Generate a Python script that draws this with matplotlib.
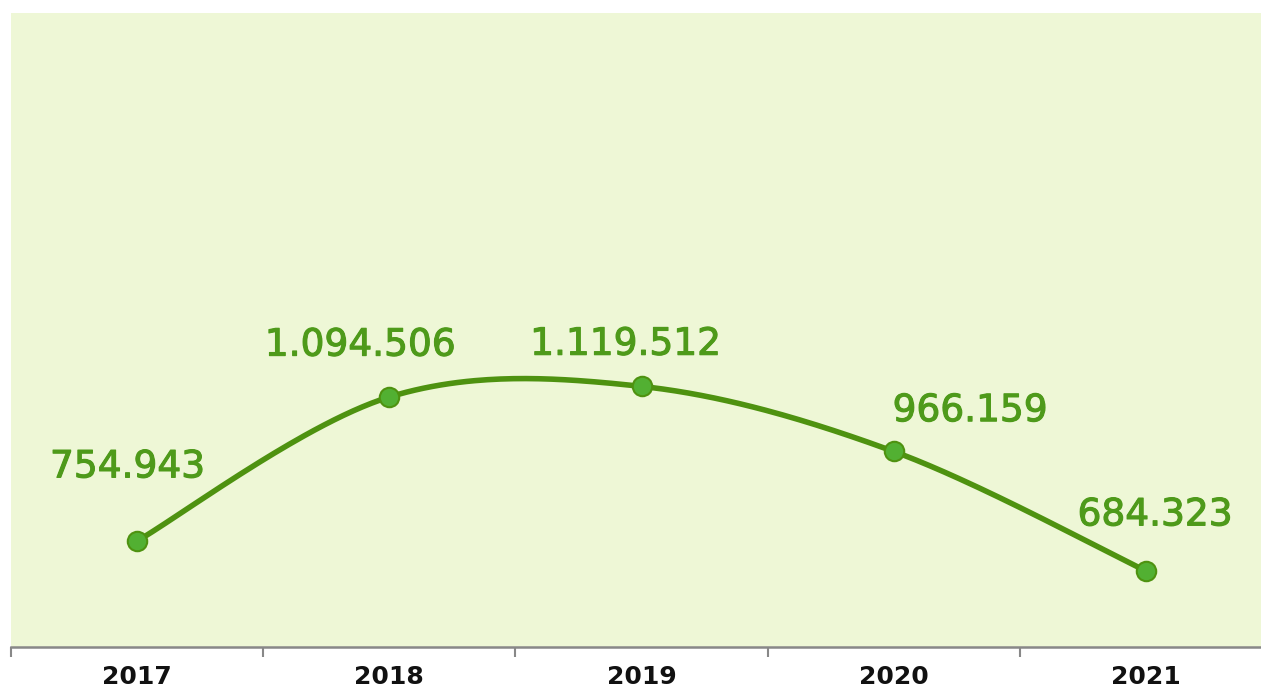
import numpy as np
import matplotlib
matplotlib.use("Agg")
import matplotlib.pyplot as plt
import matplotlib.patheffects as pe

years = ["2017", "2018", "2019", "2020", "2021"]
values = [754943, 1094506, 1119512, 966159, 684323]
labels = ["754.943", "1.094.506", "1.119.512", "966.159", "684.323"]

W, H = 1261, 688
fig = plt.figure(figsize=(W / 100, H / 100), dpi=100)
fig.patch.set_facecolor("white")
left, right, top, bottom = 11, 1272, 13, 647
ax = fig.add_axes([left / W, 1 - bottom / H, (right - left) / W, (bottom - top) / H])
ax.set_facecolor("#EEF7D6")

x = np.arange(len(values))
y = np.array(values, dtype=float)

# Excel-like smooth line (Catmull-Rom style Bezier segments)
def smooth(xs, ys, n=60):
    px, py = [], []
    N = len(xs)
    for i in range(N - 1):
        x0, y0 = xs[max(i - 1, 0)], ys[max(i - 1, 0)]
        x1, y1 = xs[i], ys[i]
        x2, y2 = xs[i + 1], ys[i + 1]
        x3, y3 = xs[min(i + 2, N - 1)], ys[min(i + 2, N - 1)]
        c1x, c1y = x1 + (x2 - x0) / 6, y1 + (y2 - y0) / 6
        c2x, c2y = x2 - (x3 - x1) / 6, y2 - (y3 - y1) / 6
        t = np.linspace(0, 1, n)
        bx = (1 - t) ** 3 * x1 + 3 * (1 - t) ** 2 * t * c1x + 3 * (1 - t) * t ** 2 * c2x + t ** 3 * x2
        by = (1 - t) ** 3 * y1 + 3 * (1 - t) ** 2 * t * c1y + 3 * (1 - t) * t ** 2 * c2y + t ** 3 * y2
        px.extend(bx); py.extend(by)
    return np.array(px), np.array(py)

sx, sy = smooth(x, y)
ax.plot(sx, sy, color="#4E9210", lw=4.0, solid_capstyle="round", zorder=2)
ax.plot(x, y, "o", ms=14, mfc="#52B032", mec="#4E9210", mew=1.5, zorder=3)

offsets = [(-7, 53), (-21, 37), (-11.5, 30), (55, 29), (6.5, 40)]
for xi, yi, lab, off in zip(x, y, labels, offsets):
    ax.annotate(lab, (xi, yi), xytext=off, textcoords="offset points",
                ha="center", va="center", fontsize=27, color="#4E9A1A",
                family="DejaVu Sans",
                path_effects=[pe.withStroke(linewidth=0.8, foreground="#4E9A1A")])

ax.set_xlim(-0.5, len(values) - 0.5)
ax.set_ylim(505000, 2000000)
ax.set_yticks([])
ax.set_xticks(x)
ax.set_xticklabels(years, fontsize=18, fontweight="bold", family="DejaVu Sans", color="#111111")
ax.set_xticks(np.arange(-0.5, len(values), 1), minor=True)
ax.tick_params(axis="x", which="major", length=0, pad=13)
ax.tick_params(axis="x", which="minor", length=7, width=1.5, color="#888888")
for s in ["top", "right", "left"]:
    ax.spines[s].set_visible(False)
ax.spines["bottom"].set_color("#888888")
ax.spines["bottom"].set_linewidth(1.8)

fig.savefig("out.png", dpi=100)
